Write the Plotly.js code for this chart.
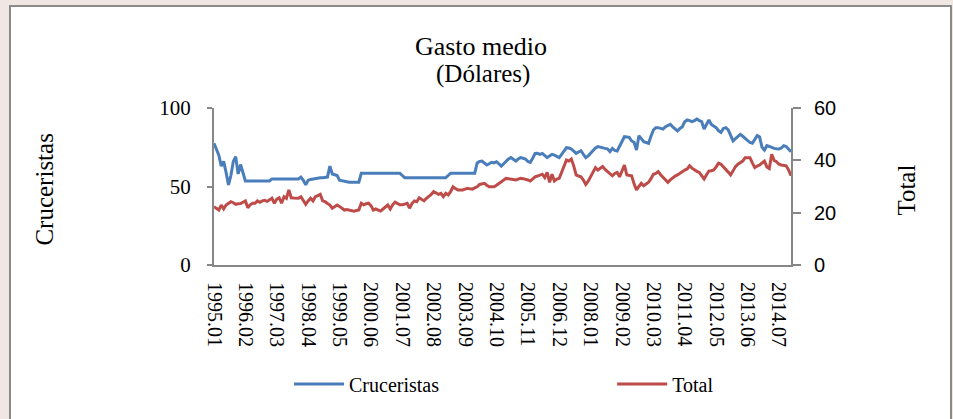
<!DOCTYPE html>
<html><head><meta charset="utf-8">
<script src="https://cdn.plot.ly/plotly-3.0.1.min.js"></script>
<style>
html,body{margin:0;padding:0;width:953px;height:419px;overflow:hidden;background:#f1e7e2;}
#frame{position:absolute;left:9px;top:5px;width:943px;height:420px;background:#fff;border:2px solid #8a8a8a;box-sizing:border-box;}
#chart{position:absolute;left:11px;top:7px;width:940px;height:412px;}
</style></head><body>
<div id="frame"></div>
<div id="chart"></div>
<script>
// Month categories 1995.01 .. 2014.12
const years = [1995,1996,1997,1998,1999,2000,2001,2002,2003,2004,2005,2006,2007,2008,2009,2010,2011,2012,2013,2014];
const months = ['01','02','03','04','05','06','07','08','09','10','11','12'];
const categories = [];
years.forEach(y => months.forEach(m => categories.push(y + '.' + m)));

const tickLabels = ['1995.01','1996.02','1997.03','1998.04','1999.05','2000.06','2001.07','2002.08','2003.09','2004.10','2005.11','2006.12','2008.01','2009.02','2010.03','2011.04','2012.05','2013.06','2014.07'];

const cruceristas = [
77.5,74,70,63,66,59,51,57,66,69,58,64,58,53.5,
53.5,53.5,53.5,53.4,53.5,53.5,53.5,53.4,53.5,53.5,
54.8,54.8,54.8,54.8,54.8,54.7,54.8,54.8,54.8,54.8,54.8,54.8,56,
54,51,54,54.5,54.8,55,55.6,55.6,55.6,55.6,56,63,58,57.5,57,54,53.7,53,52.7,
52.7,52.7,52.7,52.7,52.7,
58.4,58.4,58.4,58.4,58.4,58.4,58.4,58.4,58.4,58.4,58.4,58.4,58.4,58.4,58.4,58.4,58.4,
57,55.6,
55.6,55.6,55.6,55.6,55.6,55.6,55.6,55.6,55.6,55.6,55.6,55.6,55.6,55.6,55.6,55.6,55.6,
57,58.4,
58.4,58.4,58.4,58.4,58.4,58.4,58.4,58.4,58.4,58.4,
65,66,66.2,65,63.7,64.5,65.4,65,65.8,64.5,63,64.5,66.2,67.5,68.4,67.5,66.2,67.5,68.4,68,
67.5,66,65.4,68,71,71.1,70.5,71.1,69.5,68.4,69.5,70.5,70,69,68.4,70.5,73,74.7,74.5,73.9,
72.5,71.1,72,72.8,70.5,68.4,69.5,71.1,73,74.5,75.4,75,74.3,74.3,74,72.2,74.3,73,72.6,75.4,
78.5,81.7,81.5,81.3,79,78.2,73.2,82.4,80.5,78.5,78,77.5,82,86,87.5,87.5,87,86.6,88.1,89,
89.6,88,86.5,85.4,87,88.1,91.3,92.4,92,91.3,92,93,92,91.3,86.6,89.5,92.4,89.5,88.7,87.5,
85.5,84.5,87,87.5,86,83,79,80.5,81.7,83.2,82,80.7,79,78,77.5,80,82.4,81.5,75,73.2,
76,75.5,74.8,74.3,74,73.9,74.5,76,75.5,74,72.2
];

const total = [
22.3,21.5,21,22.9,21.4,22.9,23.4,24.2,23.8,23.2,23.4,23.5,24,24.5,21.9,23,23.6,23.6,24.5,24,
24.5,24.7,24.3,25,25.5,23.6,25.2,25.7,23.6,26.1,25.5,28.7,25.7,25.6,25.5,25.5,26.1,24.5,23.2,24.5,
25.5,24.5,26.1,26.5,27,24.5,24.2,23.5,22.9,21.7,22.3,22.9,22.4,21.7,21,21.2,21,20.8,20.6,20.8,
21,23.6,23,23.4,23.6,22.7,21,21.4,21,20.6,21.4,22,22.9,21.4,23,24,23.5,23,23,23.3,
23.6,21.7,23.5,24.5,24.2,25.7,25,24.5,25.5,26.1,27,28,27.5,27,27.4,26.1,27.4,26.8,28,29.9,
29.2,28.7,28.7,28.7,29,29.3,29.1,29,29.5,29.9,30.8,31,31.2,30.5,29.9,29.9,29.9,30.5,31.2,31.6,
32.5,33.1,33,32.8,32.6,32.5,32.8,33.1,33,32.8,32.5,32.1,33,33.7,34,34.3,34.7,33.4,35.4,31.6,
34.7,32.1,32.8,33.1,35.4,38,40.1,39.7,40.5,37.9,34.4,34,33.7,32.5,30.8,32,33.7,35.5,37.2,36.3,
37,37.6,36.5,35.7,35,34.1,35,35.4,33.7,36,38.2,34.4,34.2,34.1,31,28.7,30,31.2,30.3,31,
31.6,33,34.7,35,35.7,34.5,33.4,32.5,31.6,32.5,33.4,34,34.4,35,35.9,36.3,36.7,37.9,37,36.3,
35.8,35.4,34,32.9,34.5,35.9,36,36.3,37.5,38.9,38.5,37.6,36.5,35.5,34.4,36,37.6,38.5,39,39.7,
41,41,41,39,37.2,37.8,38.2,39,39.7,37.5,36.9,42.3,40,39.5,38.5,38.2,38,37.9,36.3,34.1
];

const serif = 'Liberation Serif, Times New Roman, serif';
const axisGray = '#878787';

const traces = [
  {x: categories, y: cruceristas, name: 'Cruceristas', type: 'scatter', mode: 'lines',
   line: {color: '#4A7EBB', width: 3}, yaxis: 'y', legend: 'legend'},
  {x: categories, y: total, name: 'Total', type: 'scatter', mode: 'lines',
   line: {color: '#BE4B48', width: 3}, yaxis: 'y2', legend: 'legend2'}
];

const legendBase = {orientation: 'h', xanchor: 'left', y: -0.758, yanchor: 'middle',
  itemwidth: 50, font: {family: serif, size: 20, color: '#000'}, bgcolor: 'rgba(0,0,0,0)'};

const layout = {
  width: 940, height: 412,
  margin: {l: 203, r: 160, t: 101, b: 154},
  paper_bgcolor: 'rgba(0,0,0,0)', plot_bgcolor: 'rgba(0,0,0,0)',
  title: {text: 'Gasto medio', font: {family: serif, size: 26, color: '#000'},
          x: 0.5, xanchor: 'center', xref: 'container', y: 0.905, yanchor: 'middle', yref: 'container'},
  xaxis: {type: 'category', range: [0, categories.length - 1], tickmode: 'array',
          tickvals: tickLabels, ticktext: tickLabels, tickangle: 90, ticklabelstandoff: 11,
          tickfont: {family: serif, size: 20, color: '#000'},
          showline: true, linecolor: axisGray, linewidth: 2, ticks: '',
          showgrid: false, zeroline: false, automargin: false},
  yaxis: {range: [0, 100], tickmode: 'linear', tick0: 0, dtick: 50,
          ticks: 'outside', ticklen: 5, tickwidth: 2, tickcolor: axisGray, ticklabelstandoff: 12,
          showline: true, linecolor: axisGray, linewidth: 2,
          showgrid: false, zeroline: false, automargin: false,
          tickfont: {family: serif, size: 21, color: '#000'}},
  yaxis2: {range: [0, 60], tickmode: 'linear', tick0: 0, dtick: 20, overlaying: 'y', side: 'right',
          ticks: 'outside', ticklen: 8, tickwidth: 2, tickcolor: axisGray, ticklabelstandoff: 9,
          showline: true, linecolor: axisGray, linewidth: 2,
          showgrid: false, zeroline: false, automargin: false,
          tickfont: {family: 'Liberation Sans, Arial, sans-serif', size: 20, color: '#000'}},
  showlegend: true,
  legend: Object.assign({}, legendBase, {x: 0.13}),
  legend2: Object.assign({}, legendBase, {x: 0.69}),
  annotations: [
    {text: '(Dólares)', xref: 'paper', yref: 'paper', x: 0.466, y: 1.217,
     xanchor: 'center', yanchor: 'middle',
     showarrow: false, font: {family: serif, size: 25, color: '#000'}},
    {text: 'Cruceristas', xref: 'paper', yref: 'paper', x: -0.293, y: 0.48, textangle: -90,
     xanchor: 'center', yanchor: 'middle',
     showarrow: false, font: {family: serif, size: 25, color: '#000'}},
    {text: 'Total', xref: 'paper', yref: 'paper', x: 1.201, y: 0.48, textangle: -90,
     xanchor: 'center', yanchor: 'middle',
     showarrow: false, font: {family: serif, size: 25, color: '#000'}}
  ]
};

Plotly.newPlot('chart', traces, layout, {displayModeBar: false, staticPlot: true});
</script>
</body></html>
